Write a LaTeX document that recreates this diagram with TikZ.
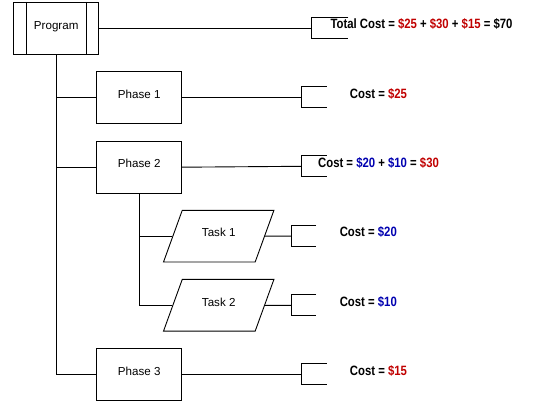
\documentclass[tikz,border=0pt]{standalone}
\usepackage{fontspec}
\setmainfont{Liberation Sans}
\newfontfamily\costfont[FakeStretch=0.84]{Liberation Sans}
\usetikzlibrary{shapes, positioning}
\definecolor{costred}{RGB}{192,0,0}
\definecolor{costblue}{RGB}{0,0,176}

\begin{document}
\begin{tikzpicture}[x=1pt, y=-1pt, line width=0.9pt,
        box/.style={draw, rectangle, minimum width=85pt, minimum height=52pt, text height=8.5pt, text depth=7pt, font=\fontsize{11.6}{14}\selectfont},
        task/.style={draw, trapezium, trapezium left angle=65, trapezium right angle=115, trapezium stretches=true, minimum width=110.7pt, minimum height=51.7pt, text height=8.5pt, text depth=7pt, font=\fontsize{11.6}{14}\selectfont},
        cost/.style={anchor=base, inner sep=0pt, font=\costfont\bfseries\fontsize{13.5}{16}\selectfont},
        pics/costbrace/.style={code={\draw (#1,-10.5) -- (0,-10.5) -- (0,10.5) -- (#1,10.5);}}]

        \useasboundingbox (0,0) rectangle (554,403);

        \node (program) [box] at (56.2,28.3) {Program};
        \draw ([xshift=13pt]program.north west) -- ([xshift=13pt]program.south west);
        \draw ([xshift=-12.4pt]program.north east) -- ([xshift=-12.4pt]program.south east);

        \node (phase1) [box] at (139.2,97.3) {Phase 1};
        \node (phase2) [box, below=17pt of phase1] {Phase 2};
        \node (phase3) [box] at (139.2,374.3) {Phase 3};

        \node (task1) [task] at (218.7,236.2) {Task 1};
        \node (task2) [task] at (218.7,305.3) {Task 2};

        % tree lines
        \draw (program.south) |- (phase3.west);
        \draw (program.south |- phase1.west) -- (phase1.west);
        \draw (program.south |- phase2.west) -- (phase2.west);
        \draw (phase2.south) |- (task2.west);
        \draw (phase2.south |- task1.west) -- (task1.west);

        % cost brackets
        \coordinate (b0) at (311.7,28.3);
        \coordinate (b1) at (301.3,97.3);
        \coordinate (b2) at (301.3,166.3);
        \coordinate (b3) at (301.3,374.3);
        \coordinate (bt1) at (291,236.2);
        \coordinate (bt2) at (291,305.3);

        \draw (program.east) -- (b0);
        \draw (phase1.east) -- (b1);
        \draw (phase2.east) -- (b2);
        \draw (phase3.east) -- (b3);
        \draw (task1.east) -- (bt1);
        \draw (task2.east) -- (bt2);

        \pic at (b0) {costbrace=36.6};
        \pic at (b1) {costbrace=25.4};
        \pic at (b2) {costbrace=25.4};
        \pic at (b3) {costbrace=25.4};
        \pic at (bt1) {costbrace=25};
        \pic at (bt2) {costbrace=25};

        \node (c0) [cost] at (421.5,28.5) {Total Cost = \textcolor{costred}{\$25} + \textcolor{costred}{\$30} + \textcolor{costred}{\$15} = \$70};
        \node (c1) [cost] at (378.5,98.5) {Cost = \textcolor{costred}{\$25}};
        \node (c2) [cost] at (378.5,167.5) {Cost = \textcolor{costblue}{\$20} + \textcolor{costblue}{\$10} = \textcolor{costred}{\$30}};
        \node (ct1) [cost] at (368.3,236.5) {Cost = \textcolor{costblue}{\$20}};
        \node (ct2) [cost] at (368.3,306.1) {Cost = \textcolor{costblue}{\$10}};
        \node (c3) [cost] at (378.5,375.5) {Cost = \textcolor{costred}{\$15}};
    \end{tikzpicture}
\end{document}
